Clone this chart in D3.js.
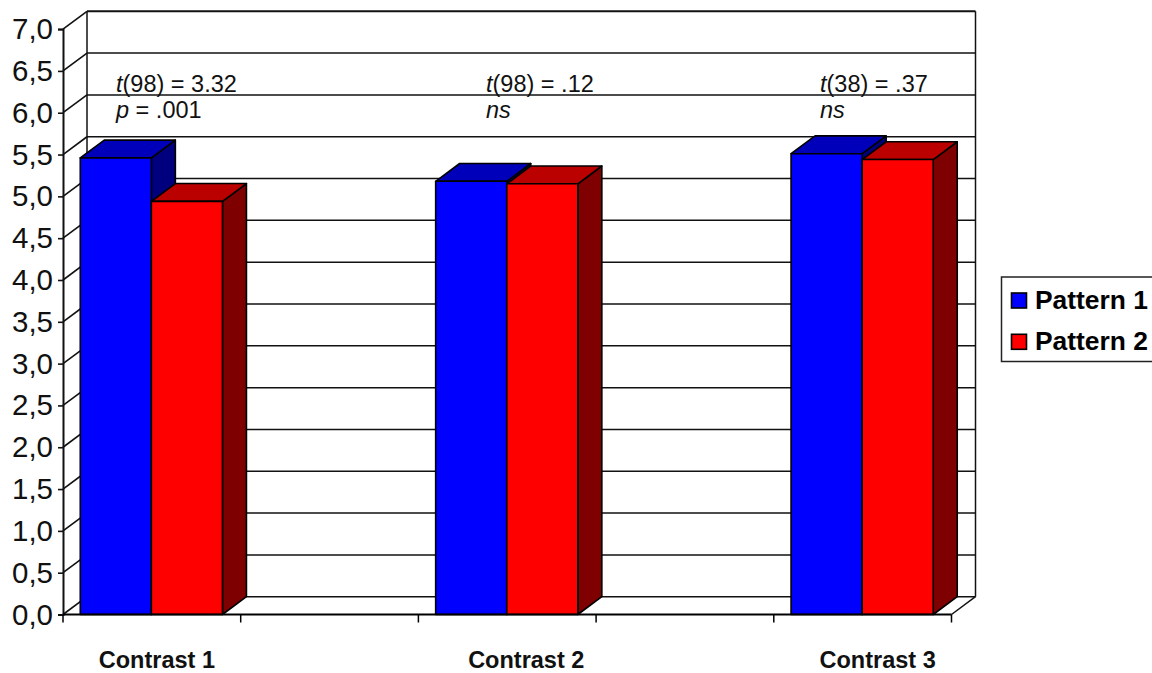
<!DOCTYPE html>
<html>
<head>
<meta charset="utf-8">
<script src="https://cdn.jsdelivr.net/npm/d3@7"></script>
<style>
  html, body { margin: 0; padding: 0; background: #fff; overflow: hidden; }
  svg { display: block; font-family: "Liberation Sans", Arial, sans-serif; }
</style>
</head>
<body>
<svg id="chart" width="1152" height="673"></svg>
<script>
const slots = ['c1', 'gap1', 'c2', 'gap2', 'c3'];
const contrasts = ['Contrast 1', 'Contrast 2', 'Contrast 3'];
const contrastSlots = ['c1', 'c2', 'c3'];
const seriesNames = ['Pattern 1', 'Pattern 2'];
const pattern1 = [5.46, 5.18, 5.51];
const pattern2 = [4.94, 5.15, 5.44];
const yTicks = [0, 0.5, 1, 1.5, 2, 2.5, 3, 3.5, 4, 4.5, 5, 5.5, 6, 6.5, 7];
const statPrefix = ['98', '98', '38'];
const statValue = ['3.32', '.12', '.37'];
const statSecond = [['p', ' = .001'], ['ns', ''], ['ns', '']];

const depthX = 24;
const depthY = 17.8;
const lineColor = '#111';

const front = { fill: ['#0000ff', '#ff0000'], top: ['#0000bb', '#bb0000'], side: ['#00007f', '#7f0000'] };

const svg = d3.select('#chart');
const x = d3.scaleBand().domain(slots).range([63, 951.5]).paddingInner(0).paddingOuter(0);
const y = d3.scaleLinear().domain([0, 7]).range([614.5, 29.1]);
const inner = d3.scaleBand().domain(seriesNames).range([x.bandwidth() * 0.1, x.bandwidth() * 0.9]);

const wall = svg.append('g').attr('fill', 'none').attr('stroke', lineColor).attr('stroke-width', 1.5);
// back wall and the gridlines on it
wall.selectAll('line.grid')
  .data(yTicks)
  .join('line')
  .attr('class', 'grid')
  .attr('x1', 63 + depthX)
  .attr('x2', 951.5 + depthX)
  .attr('y1', (d) => y(d) - depthY)
  .attr('y2', (d) => y(d) - depthY)
  .attr('stroke-width', (d) => (d === 7 ? 2 : 1.5));
// left wall diagonals
wall.selectAll('line.diag')
  .data(yTicks)
  .join('line')
  .attr('class', 'diag')
  .attr('x1', 63)
  .attr('x2', 63 + depthX)
  .attr('y1', (d) => y(d))
  .attr('y2', (d) => y(d) - depthY)
  .attr('stroke-width', 1.6);
wall.append('line')
  .attr('x1', 63 + depthX).attr('x2', 63 + depthX)
  .attr('y1', y(7) - depthY).attr('y2', y(0) - depthY);
wall.append('line')
  .attr('x1', 951.5 + depthX).attr('x2', 951.5 + depthX)
  .attr('y1', y(7) - depthY).attr('y2', y(0) - depthY);
wall.append('line')
  .attr('x1', 951.5).attr('x2', 951.5 + depthX)
  .attr('y1', y(0)).attr('y2', y(0) - depthY);

// bars, each one is a front face, a top and a side
const values = [pattern1, pattern2];
contrastSlots.forEach((slot, i) => {
  seriesNames.forEach((name, s) => {
    const x0 = x(slot) + inner(name) - 0.5;
    const x1 = x0 + inner.bandwidth();
    const yTop = y(values[s][i]);
    const yBase = y(0);
    const g = svg.append('g').attr('stroke', '#000').attr('stroke-width', 1.6).attr('stroke-linejoin', 'round');
    g.append('polygon')
      .attr('points', [[x1, yTop], [x1 + depthX, yTop - depthY], [x1 + depthX, yBase - depthY], [x1, yBase]].join(' '))
      .attr('fill', front.side[s]);
    g.append('polygon')
      .attr('points', [[x0, yTop], [x0 + depthX, yTop - depthY], [x1 + depthX, yTop - depthY], [x1, yTop]].join(' '))
      .attr('fill', front.top[s]);
    g.append('rect')
      .attr('x', x0).attr('y', yTop)
      .attr('width', x1 - x0).attr('height', yBase - yTop)
      .attr('fill', front.fill[s]);
  });
});

// axes
const yAxis = d3.axisLeft(y).tickValues(yTicks).tickSize(5).tickFormat((d) => d3.format('.1f')(d).replace('.', ','));
const yG = svg.append('g').attr('transform', 'translate(63,0)').call(yAxis);
yG.select('.domain').attr('stroke', lineColor).attr('stroke-width', 2);
yG.selectAll('.tick line').attr('stroke', lineColor).attr('stroke-width', 1.6);
yG.selectAll('.tick text')
  .attr('x', -10).attr('dy', '9.5px')
  .attr('font-size', 29.5).attr('font-family', '"Liberation Sans", Arial, sans-serif')
  .attr('fill', '#111').attr('text-anchor', 'end');

const xBase = svg.append('g').attr('stroke', '#000');
xBase.append('line')
  .attr('x1', x.range()[0]).attr('x2', x.range()[1])
  .attr('y1', y(0)).attr('y2', y(0))
  .attr('stroke-width', 2);
xBase.selectAll('line.tick')
  .data([...slots.map((d) => x(d)), x.range()[1]])
  .join('line')
  .attr('class', 'tick')
  .attr('x1', (d) => d).attr('x2', (d) => d)
  .attr('y1', y(0)).attr('y2', y(0) + 8)
  .attr('stroke-width', 1.5);

// category labels sit a bit off centre in the original
const labelShift = [5, 19, 15];
svg.selectAll('text.cat')
  .data(contrasts)
  .join('text')
  .attr('class', 'cat')
  .attr('x', (d, i) => x(contrastSlots[i]) + x.bandwidth() / 2 + labelShift[i])
  .attr('y', 668)
  .attr('text-anchor', 'middle')
  .attr('font-weight', 'bold')
  .attr('font-size', 23.5)
  .attr('fill', '#111')
  .text((d) => d);

// t test annotations
const statX = [116, 486, 820];
contrastSlots.forEach((slot, i) => {
  const t1 = svg.append('text').attr('x', statX[i]).attr('y', 92).attr('font-size', 23.5).attr('fill', '#111');
  t1.append('tspan').attr('font-style', 'italic').text('t');
  t1.append('tspan').text(`(${statPrefix[i]}) = ${statValue[i]}`);
  const t2 = svg.append('text').attr('x', statX[i]).attr('y', 118).attr('font-size', 23.5).attr('fill', '#111');
  t2.append('tspan').attr('font-style', 'italic').text(statSecond[i][0]);
  if (statSecond[i][1]) t2.append('tspan').text(statSecond[i][1]);
});

// legend, box runs off the right edge like the original
const legend = svg.append('g');
legend.append('rect')
  .attr('x', 1001.5).attr('y', 277)
  .attr('width', 170).attr('height', 84.5)
  .attr('fill', '#fff').attr('stroke', '#222').attr('stroke-width', 1.5);
seriesNames.forEach((name, s) => {
  const top = 293 + s * 41.3;
  legend.append('rect')
    .attr('x', 1011.5).attr('y', top)
    .attr('width', 15).attr('height', 15)
    .attr('fill', front.fill[s]).attr('stroke', '#000').attr('stroke-width', 1.6);
  legend.append('text')
    .attr('x', 1035).attr('y', top + 16)
    .attr('font-size', 26.4).attr('font-weight', 'bold')
    .attr('fill', '#000')
    .text(name);
});
</script>
</body>
</html>
